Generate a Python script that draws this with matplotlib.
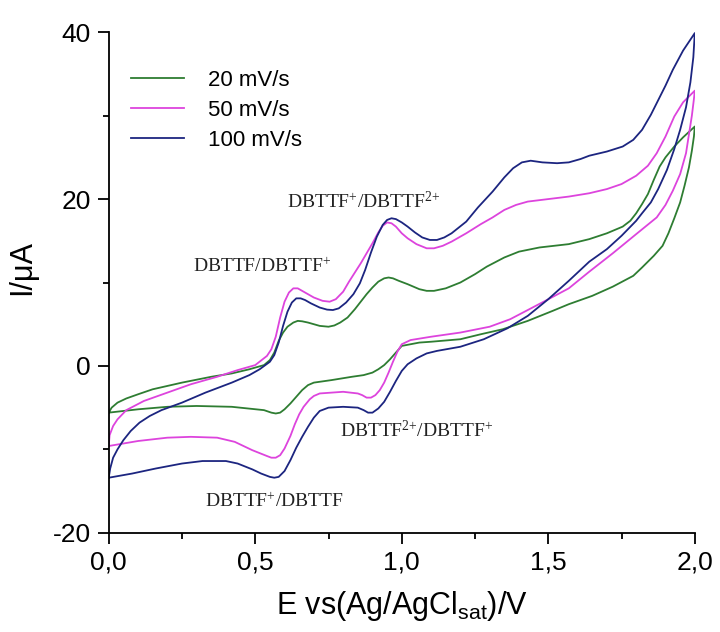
import numpy as np
import matplotlib.pyplot as plt
from matplotlib.ticker import MultipleLocator, FuncFormatter

plt.rcParams['font.family'] = ['Liberation Sans', 'DejaVu Sans']
plt.rcParams['axes.unicode_minus'] = False

# 20 mV/s
e20_fwd = [0.00, 0.01, 0.03, 0.06, 0.10, 0.15, 0.25, 0.35, 0.42, 0.48, 0.53, 0.55, 0.565, 0.58,
           0.595, 0.61, 0.63, 0.645, 0.66, 0.68, 0.70, 0.72, 0.75, 0.77, 0.79, 0.815, 0.84, 0.86,
           0.88, 0.90, 0.92, 0.94, 0.955, 0.97, 0.99, 1.02, 1.06, 1.085, 1.11, 1.15, 1.20, 1.25,
           1.29, 1.35, 1.40, 1.47, 1.57, 1.64, 1.70, 1.754, 1.78, 1.80, 1.82, 1.84, 1.86, 1.88,
           1.90, 1.93, 1.96, 2.00]
i20_fwd = [-5.6, -5.0, -4.4, -3.9, -3.4, -2.8, -2.0, -1.3, -0.9, -0.4, 0.1, 0.7, 1.6, 3.0,
           4.0, 4.7, 5.2, 5.4, 5.35, 5.2, 5.0, 4.8, 4.7, 4.85, 5.2, 5.8, 6.8, 7.7,
           8.6, 9.4, 10.1, 10.5, 10.6, 10.5, 10.2, 9.8, 9.2, 9.0, 9.0, 9.3, 10.0, 11.0,
           11.9, 13.0, 13.7, 14.2, 14.6, 15.2, 15.9, 16.7, 17.4, 18.3, 19.4, 20.6, 22.3, 23.9,
           25.0, 26.3, 27.4, 28.7]
e20_rev = [2.00, 1.997, 1.99, 1.98, 1.965, 1.95, 1.93, 1.91, 1.89, 1.86, 1.82, 1.79, 1.72,
           1.65, 1.57, 1.515, 1.43, 1.345, 1.27, 1.20, 1.10, 1.06, 1.00, 0.98, 0.96, 0.94,
           0.92, 0.90, 0.87, 0.83, 0.76, 0.70, 0.68, 0.66, 0.64, 0.62, 0.60, 0.585, 0.57,
           0.555, 0.53, 0.42, 0.30, 0.20, 0.10, 0.00]
i20_rev = [28.7, 27.5, 25.8, 23.8, 21.6, 19.6, 17.7, 15.9, 14.4, 13.2, 11.8, 10.8, 9.5,
           8.4, 7.4, 6.6, 5.4, 4.4, 3.8, 3.2, 2.9, 2.8, 2.4, 1.6, 0.8, 0.1,
           -0.4, -0.8, -1.1, -1.3, -1.7, -2.0, -2.3, -2.9, -3.7, -4.5, -5.2, -5.6, -5.7,
           -5.6, -5.3, -4.9, -4.8, -4.9, -5.2, -5.6]

# 50 mV/s
e50_fwd = [0.00, 0.003, 0.015, 0.03, 0.06, 0.12, 0.20, 0.28, 0.37, 0.44, 0.50, 0.54, 0.555,
           0.57, 0.585, 0.60, 0.615, 0.63, 0.645, 0.66, 0.68, 0.70, 0.73, 0.754, 0.775, 0.80,
           0.82, 0.86, 0.88, 0.90, 0.92, 0.935, 0.95, 0.965, 0.98, 1.00, 1.02, 1.05, 1.085,
           1.11, 1.14, 1.17, 1.22, 1.27, 1.31, 1.35, 1.39, 1.43, 1.50, 1.57, 1.64, 1.70,
           1.75, 1.80, 1.84, 1.87, 1.90, 1.93, 1.96, 2.00]
i50_fwd = [-9.6, -8.3, -7.2, -6.4, -5.3, -4.2, -3.2, -2.2, -1.3, -0.5, 0.1, 1.2, 2.0,
           3.5, 5.8, 7.7, 8.8, 9.3, 9.3, 9.0, 8.6, 8.2, 7.8, 7.7, 8.0, 8.9,
           10.1, 12.3, 13.5, 14.7, 16.0, 16.8, 17.2, 17.1, 16.7, 15.9, 15.3, 14.6, 14.1,
           14.1, 14.4, 14.9, 15.9, 17.0, 17.8, 18.7, 19.3, 19.7, 20.0, 20.3, 20.7, 21.2,
           21.8, 22.8, 24.0, 25.5, 27.5, 29.9, 31.6, 33.0]
e50_rev = [2.00, 1.997, 1.99, 1.97, 1.95, 1.925, 1.90, 1.87, 1.80, 1.72, 1.64, 1.57, 1.495,
           1.43, 1.37, 1.30, 1.20, 1.10, 1.03, 1.00, 0.985, 0.97, 0.955, 0.94, 0.925, 0.91,
           0.895, 0.88, 0.865, 0.85, 0.80, 0.72, 0.70, 0.686, 0.665, 0.65, 0.635, 0.62, 0.60,
           0.585, 0.57, 0.555, 0.54, 0.49, 0.43, 0.37, 0.28, 0.20, 0.10, 0.00]
i50_rev = [33.0, 32.0, 30.0, 25.5, 23.0, 21.0, 19.3, 17.8, 15.8, 13.5, 11.3, 9.3, 7.9,
           6.7, 5.6, 4.7, 4.0, 3.5, 3.1, 2.6, 1.7, 0.5, -0.8, -2.0, -2.9, -3.5,
           -3.8, -3.8, -3.5, -3.3, -3.1, -3.3, -3.6, -4.0, -4.9, -5.8, -7.0, -8.4, -9.9,
           -10.7, -11.0, -11.0, -10.8, -10.1, -9.1, -8.6, -8.5, -8.6, -9.0, -9.6]

# 100 mV/s
e100_fwd = [0.00, 0.005, 0.015, 0.03, 0.05, 0.075, 0.105, 0.14, 0.18, 0.25, 0.33, 0.42, 0.48,
            0.515, 0.55, 0.565, 0.58, 0.595, 0.61, 0.625, 0.64, 0.655, 0.67, 0.69, 0.72, 0.745,
            0.765, 0.785, 0.81, 0.835, 0.857, 0.875, 0.895, 0.915, 0.935, 0.95, 0.965, 0.98,
            1.00, 1.02, 1.045, 1.07, 1.096, 1.12, 1.145, 1.17, 1.22, 1.26, 1.31, 1.35, 1.38,
            1.41, 1.44, 1.48, 1.53, 1.57, 1.61, 1.64, 1.70, 1.754, 1.79, 1.82, 1.85, 1.87,
            1.90, 1.925, 1.96, 2.00]
i100_fwd = [-13.4, -12.3, -11.0, -10.0, -8.9, -7.8, -6.8, -6.0, -5.3, -4.4, -3.2, -2.0, -1.1,
            -0.4, 0.5, 1.3, 2.8, 4.8, 6.5, 7.6, 8.1, 8.1, 7.9, 7.5, 7.0, 6.75,
            6.7, 6.9, 7.6, 8.6, 9.9, 11.5, 13.6, 15.5, 16.9, 17.5, 17.7, 17.6,
            17.2, 16.7, 16.0, 15.4, 15.1, 15.1, 15.4, 15.9, 17.3, 19.0, 20.9, 22.6, 23.7,
            24.4, 24.6, 24.4, 24.3, 24.4, 24.8, 25.2, 25.7, 26.3, 27.1, 28.3, 30.1, 31.5,
            33.6, 35.5, 37.8, 39.9]
e100_rev = [2.00, 1.995, 1.985, 1.97, 1.95, 1.93, 1.905, 1.875, 1.85, 1.82, 1.80, 1.75, 1.70,
            1.64, 1.57, 1.50, 1.43, 1.36, 1.28, 1.20, 1.12, 1.085, 1.05, 1.02, 1.00, 0.98,
            0.96, 0.94, 0.92, 0.90, 0.885, 0.87, 0.85, 0.80, 0.75, 0.72, 0.70, 0.68, 0.66,
            0.64, 0.62, 0.60, 0.58, 0.565, 0.55, 0.52, 0.49, 0.44, 0.40, 0.32, 0.25, 0.16,
            0.08, 0.00]
i100_rev = [39.5, 37.0, 34.0, 31.0, 28.3, 26.0, 23.5, 21.2, 19.6, 18.3, 17.4, 15.6, 14.0,
            12.5, 10.2, 8.0, 6.0, 4.5, 3.2, 2.3, 1.8, 1.5, 0.9, 0.2, -0.6, -1.8,
            -3.1, -4.3, -5.1, -5.6, -5.6, -5.3, -5.0, -4.9, -5.0, -5.4, -6.2, -7.3, -8.5,
            -9.8, -11.3, -12.6, -13.3, -13.4, -13.3, -12.9, -12.4, -11.7, -11.4, -11.4, -11.7, -12.3,
            -12.9, -13.4]

labels = ['20 mV/s', '50 mV/s', '100 mV/s']
colors = ['#2e7d32', '#dd44dd', '#1c2580']

fig = plt.figure(figsize=(7.2, 6.32), dpi=100)
ax = fig.add_axes([0.151, 0.157, 0.814, 0.792])

scans = [(e20_fwd, i20_fwd, e20_rev, i20_rev),
         (e50_fwd, i50_fwd, e50_rev, i50_rev),
         (e100_fwd, i100_fwd, e100_rev, i100_rev)]
for (ef, jf, er, jr), lab, c in zip(scans, labels, colors):
    ax.plot(ef + er[1:], jf + jr[1:], color=c, lw=1.3, label=lab)

ax.set_xlim(0, 2.0)
ax.set_ylim(-20, 40)
ax.xaxis.set_major_locator(MultipleLocator(0.5))
ax.xaxis.set_minor_locator(MultipleLocator(0.25))
ax.yaxis.set_major_locator(MultipleLocator(20))
ax.yaxis.set_minor_locator(MultipleLocator(10))
ax.xaxis.set_major_formatter(FuncFormatter(lambda v, p: f'{v:.1f}'.replace('.', ',')))
ax.spines['top'].set_visible(False)
ax.spines['right'].set_visible(False)
for s in ['left', 'bottom']:
    ax.spines[s].set_linewidth(1.3)
ax.tick_params(which='major', direction='out', length=8, width=1.3, labelsize=19, pad=5)
ax.tick_params(which='minor', direction='out', length=4.5, width=1.3)

ax.set_xlabel('E vs(Ag/AgCl$_\\mathregular{sat}$)/V', fontsize=22, labelpad=10)
ax.set_ylabel('I/μA', fontsize=22)
ax.yaxis.set_label_coords(-0.123, 0.53)

ax.legend(loc='upper left', bbox_to_anchor=(0.0375, 0.925), frameon=False, fontsize=16,
          handlelength=2.4, handletextpad=1.1, labelspacing=0.4, borderaxespad=0, borderpad=0)

tf = dict(family=['Liberation Serif', 'DejaVu Serif'], fontsize=14, ha='left', va='baseline', color='#222222')
ax.text(0.607, 18.9, '$\\mathregular{DBTTF^{+}/DBTTF^{2{+}}}$', **tf)
ax.text(0.287, 11.3, '$\\mathregular{DBTTF/DBTTF^{+}}$', **tf)
ax.text(0.788, -8.5, '$\\mathregular{DBTTF^{2{+}}/DBTTF^{+}}$', **tf)
ax.text(0.328, -16.9, '$\\mathregular{DBTTF^{+}/DBTTF}$', **tf)

fig.savefig('out.png', dpi=100)
